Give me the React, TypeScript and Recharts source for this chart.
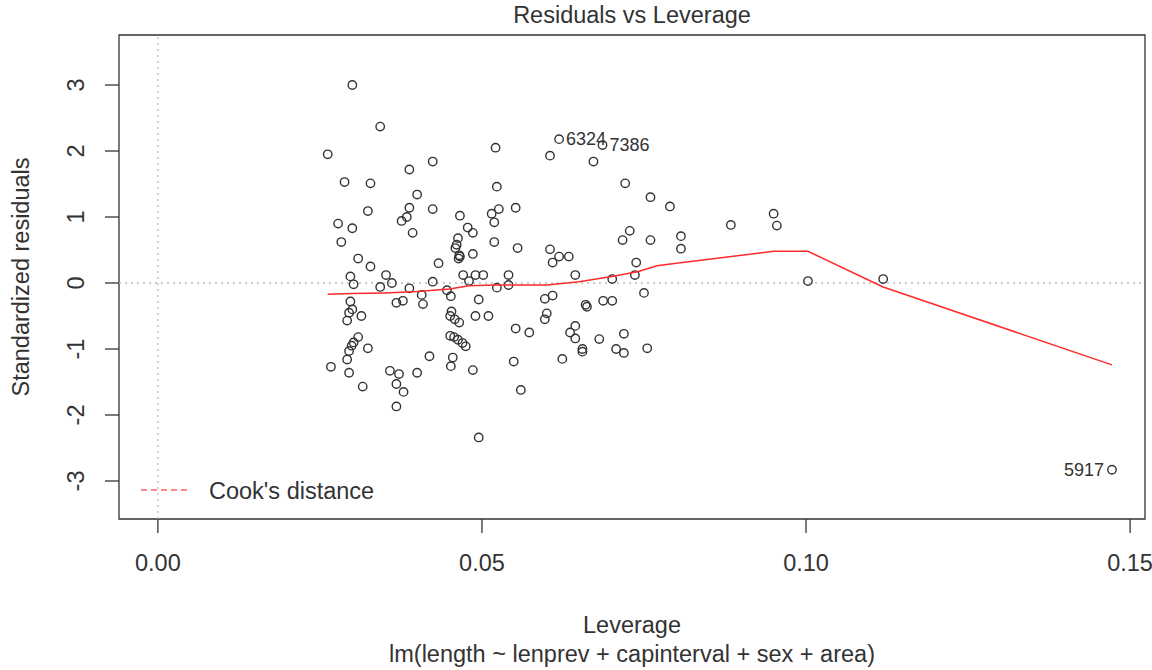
import { ScatterChart, Scatter, XAxis, YAxis, ReferenceLine, ReferenceArea } from "recharts";

// leverage (hat values) and standardized residuals
const LEVERAGE = [
  0.03, 0.0343, 0.0262, 0.0521, 0.0424, 0.0388, 0.0523, 0.0288, 0.0328, 0.04,
  0.0388, 0.0424, 0.0324, 0.0466, 0.0515, 0.0384, 0.0376, 0.0278, 0.03, 0.0519,
  0.0478, 0.0486, 0.0393, 0.0283, 0.0519, 0.0463, 0.0461, 0.0459, 0.0465, 0.0466,
  0.0464, 0.0486, 0.0309, 0.0328, 0.0433, 0.0526, 0.0297, 0.0302, 0.0352, 0.0361,
  0.0343, 0.0388, 0.0424, 0.0471, 0.049, 0.0502, 0.048, 0.0523, 0.0446, 0.0452,
  0.0407, 0.0409, 0.0368, 0.0378, 0.0297, 0.03, 0.0295, 0.0292, 0.0314, 0.0495,
  0.0453, 0.0451, 0.0458, 0.0465, 0.049, 0.051, 0.0451, 0.0457, 0.0463, 0.047,
  0.0475, 0.0309, 0.0302, 0.0299, 0.0295, 0.0324, 0.0292, 0.0295, 0.0267, 0.0316,
  0.0358, 0.0372, 0.0368, 0.0379, 0.0368, 0.04, 0.0419, 0.0455, 0.0452, 0.0486,
  0.0495, 0.0605, 0.0672, 0.0721, 0.076, 0.079, 0.0552, 0.0728, 0.0717, 0.076,
  0.0807, 0.0807, 0.0555, 0.0605, 0.0619, 0.0609, 0.0634, 0.0738, 0.0644, 0.0541,
  0.0701, 0.0736, 0.0541, 0.075, 0.0597, 0.0609, 0.066, 0.0662, 0.0687, 0.0701,
  0.06, 0.0597, 0.0552, 0.0573, 0.0644, 0.0636, 0.0644, 0.0681, 0.0719, 0.0655,
  0.0655, 0.0707, 0.0719, 0.0755, 0.0624, 0.0549, 0.056, 0.0884, 0.095, 0.0955,
  0.1003, 0.1119,
];
const STD_RESID = [
  3.0, 2.37, 1.95, 2.05, 1.84, 1.72, 1.46, 1.53, 1.51, 1.34,
  1.14, 1.12, 1.09, 1.02, 1.05, 1.0, 0.94, 0.9, 0.83, 0.92,
  0.84, 0.76, 0.76, 0.62, 0.62, 0.68, 0.58, 0.53, 0.42, 0.4,
  0.37, 0.44, 0.37, 0.25, 0.3, 1.12, 0.1, -0.02, 0.12, 0.0,
  -0.06, -0.08, 0.02, 0.12, 0.12, 0.12, 0.03, -0.07, -0.11, -0.2,
  -0.18, -0.32, -0.3, -0.27, -0.28, -0.4, -0.45, -0.57, -0.5, -0.25,
  -0.43, -0.5, -0.55, -0.6, -0.5, -0.5, -0.8, -0.82, -0.86, -0.91,
  -0.96, -0.82, -0.9, -0.95, -1.03, -0.99, -1.16, -1.36, -1.27, -1.57,
  -1.33, -1.38, -1.53, -1.65, -1.87, -1.36, -1.11, -1.13, -1.26, -1.32,
  -2.34, 1.93, 1.84, 1.51, 1.3, 1.16, 1.14, 0.79, 0.65, 0.65,
  0.71, 0.52, 0.53, 0.51, 0.4, 0.31, 0.4, 0.31, 0.12, 0.12,
  0.06, 0.12, -0.03, -0.15, -0.24, -0.19, -0.33, -0.36, -0.27, -0.27,
  -0.46, -0.55, -0.69, -0.75, -0.65, -0.75, -0.84, -0.85, -0.77, -1.0,
  -1.04, -1.0, -1.06, -0.99, -1.15, -1.19, -1.62, 0.88, 1.05, 0.87,
  0.03, 0.06,
];

// the three observations R labels
const LABEL_LEV = [0.0619, 0.0686, 0.1472];
const LABEL_RES = [2.18, 2.09, -2.83];
const LABEL_IDS = ["6324", "7386", "5917"];

// red smoother
const SMOOTH_LEV = [0.0262, 0.03, 0.035, 0.04, 0.045, 0.048, 0.052, 0.06, 0.065, 0.07, 0.074, 0.077, 0.08, 0.095, 0.1003, 0.1119, 0.1472];
const SMOOTH_RES = [-0.17, -0.16, -0.15, -0.13, -0.09, -0.04, -0.03, -0.03, 0.02, 0.1, 0.17, 0.26, 0.3, 0.48, 0.48, -0.06, -1.24];

const X_TICKS = [0, 0.05, 0.1, 0.15];
const Y_TICKS = [-3, -2, -1, 0, 1, 2, 3];
const X_DOMAIN = [-0.006, 0.1523];
const Y_DOMAIN = [-3.576, 3.758];

const points = LEVERAGE.map((lev, i) => ({ lev, res: STD_RESID[i] }));
const labelled = LABEL_LEV.map((lev, i) => ({ lev, res: LABEL_RES[i], id: LABEL_IDS[i] }));
const smooth = SMOOTH_LEV.map((lev, i) => ({ lev, res: SMOOTH_RES[i] }));

const FONT = "'Liberation Sans', Arial, sans-serif";
const INK = "#333";

function Ring(props: any) {
  return <circle cx={props.cx} cy={props.cy} r={4.2} fill="none" stroke={INK} strokeWidth={1.4} />;
}

function LabelledRing(props: any) {
  const left = props.payload.lev > 0.14;
  return (
    <g>
      <circle cx={props.cx} cy={props.cy} r={4.2} fill="none" stroke={INK} strokeWidth={1.4} />
      <text
        x={left ? props.cx - 8 : props.cx + 7}
        y={props.cy}
        textAnchor={left ? "end" : "start"}
        dominantBaseline="central"
        fontSize={18}
        fontFamily={FONT}
        fill={INK}
      >
        {props.payload.id}
      </text>
    </g>
  );
}

function YTick(props: any) {
  const x = props.x - 29;
  return (
    <text
      x={x}
      y={props.y}
      transform={`rotate(-90 ${x} ${props.y})`}
      textAnchor="middle"
      dominantBaseline="central"
      fontSize={23.5}
      fontFamily={FONT}
      fill={INK}
    >
      {props.payload.value}
    </text>
  );
}

function XTick(props: any) {
  return (
    <text
      x={props.x}
      y={props.y + 30}
      textAnchor="middle"
      dominantBaseline="central"
      fontSize={23.5}
      fontFamily={FONT}
      fill={INK}
    >
      {Number(props.payload.value).toFixed(2)}
    </text>
  );
}

const textStyle: React.CSSProperties = {
  position: "absolute",
  fontFamily: FONT,
  fontSize: 23.5,
  color: INK,
  whiteSpace: "nowrap",
  lineHeight: 1,
};

export default function App() {
  return (
    <div style={{ position: "absolute", left: 0, top: 0, width: 1152, height: 670, background: "#fff" }}>
      <ScatterChart width={1152} height={670} margin={{ top: 35, right: 7, left: 0, bottom: 0 }}>
        <XAxis
          type="number"
          dataKey="lev"
          domain={X_DOMAIN}
          ticks={X_TICKS}
          allowDataOverflow
          axisLine={false}
          tickLine={{ stroke: INK, strokeWidth: 1.3 }}
          tickSize={14}
          tickMargin={0}
          height={151}
          tick={<XTick />}
        />
        <YAxis
          type="number"
          dataKey="res"
          domain={Y_DOMAIN}
          ticks={Y_TICKS}
          allowDataOverflow
          axisLine={false}
          tickLine={{ stroke: INK, strokeWidth: 1.3 }}
          tickSize={14}
          tickMargin={0}
          width={119}
          tick={<YTick />}
        />
        <ReferenceLine x={0} stroke="#bbb" strokeWidth={1.3} strokeDasharray="2 4" />
        <ReferenceLine y={0} stroke="#bbb" strokeWidth={1.3} strokeDasharray="2 4" />
        <ReferenceArea
          x1={X_DOMAIN[0]}
          x2={X_DOMAIN[1]}
          y1={Y_DOMAIN[0]}
          y2={Y_DOMAIN[1]}
          fill="none"
          fillOpacity={0}
          stroke={INK}
          strokeWidth={1.3}
          ifOverflow="visible"
        />
        <Scatter data={points} shape={<Ring />} isAnimationActive={false} />
        <Scatter data={labelled} shape={<LabelledRing />} isAnimationActive={false} />
        <Scatter
          data={smooth}
          line={{ stroke: "#ff2a2a", strokeWidth: 1.5 }}
          lineType="joint"
          shape={() => <g />}
          isAnimationActive={false}
        />
      </ScatterChart>

      <div style={{ ...textStyle, left: 632, top: 4, transform: "translateX(-50%)" }}>Residuals vs Leverage</div>
      <div style={{ ...textStyle, left: 632, top: 614, transform: "translateX(-50%)" }}>Leverage</div>
      <div style={{ ...textStyle, left: 632, top: 643, transform: "translateX(-50%)" }}>
        lm(length ~ lenprev + capinterval + sex + area)
      </div>
      <div
        style={{
          ...textStyle,
          left: 22,
          top: 277,
          transform: "translate(-50%, -50%) rotate(-90deg)",
        }}
      >
        Standardized residuals
      </div>
      <svg style={{ position: "absolute", left: 136, top: 480 }} width={60} height={20}>
        <line x1={5} y1={10} x2={51} y2={10} stroke="#ff6060" strokeWidth={1.5} strokeDasharray="6 4" />
      </svg>
      <div style={{ ...textStyle, left: 209, top: 480 }}>Cook's distance</div>
    </div>
  );
}
